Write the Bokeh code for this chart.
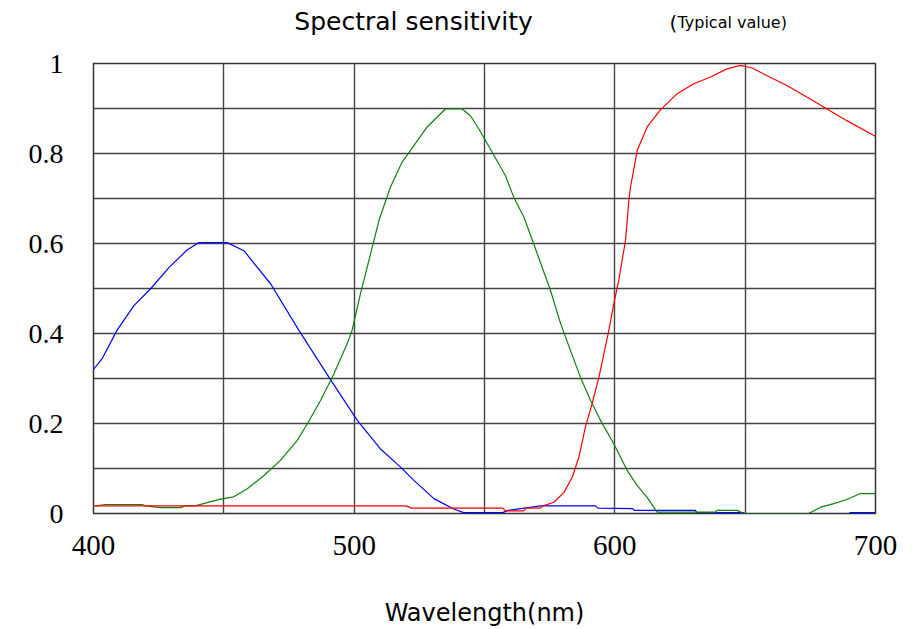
from bokeh.plotting import figure
from bokeh.models import FixedTicker, Label, Range1d
from bokeh.layouts import column
from bokeh.embed import file_html
from bokeh.resources import INLINE

# ---- data ----
blue_wl = [400, 403.3, 409, 415.5, 422, 429, 436, 440.5, 451.3, 457.7, 468, 478.8,
           490.3, 501.2, 510, 517.8, 523, 530.6, 538.2, 542, 557, 559, 571.5, 592.6,
           593.5, 606.8, 607.5, 630.9, 631.5, 649.4, 650, 689.7, 690.3, 700]
blue_val = [0.32, 0.344, 0.407, 0.462, 0.50, 0.547, 0.586, 0.602, 0.602, 0.584, 0.51, 0.407,
            0.303, 0.207, 0.144, 0.103, 0.073, 0.033, 0.01, 0.002, 0.002, 0.007, 0.017, 0.017,
            0.012, 0.011, 0.007, 0.007, 0.002, 0.002, -0.002, -0.002, 0.002, 0.002]

green_wl = [400.8, 404.6, 418.7, 420, 425.7, 433.4, 435, 439, 443.6, 448.7, 453.8, 459,
            465.3, 471.7, 478.1, 482, 487.1, 492.2, 497.3, 499.2, 502.4, 506.3, 509.5,
            513.9, 518.4, 521.6, 528, 535, 541.4, 544.6, 547.8, 553.6, 558, 561.2, 565.1,
            568.9, 572.8, 575.3, 579.2, 583, 586.8, 590.7, 594.5, 599.6, 604.7, 608.6,
            612.4, 616.2, 638.6, 639.2, 647, 649.4, 674.3, 679, 684, 689, 694, 700]
green_val = [0.017, 0.02, 0.02, 0.017, 0.013, 0.013, 0.017, 0.017, 0.024, 0.032, 0.037, 0.055,
             0.084, 0.118, 0.162, 0.199, 0.251, 0.31, 0.377, 0.407, 0.488, 0.577, 0.651,
             0.725, 0.781, 0.807, 0.859, 0.899, 0.899, 0.884, 0.855, 0.796, 0.751, 0.703, 0.659,
             0.599, 0.536, 0.496, 0.422, 0.362, 0.303, 0.251, 0.207, 0.155, 0.096, 0.062,
             0.036, 0.003, 0.003, 0.007, 0.007, 0.0, 0.0, 0.014, 0.022, 0.031, 0.044, 0.044]

red_wl = [400, 520, 522, 557, 558, 565, 566, 571.5, 572.5, 576.6, 580.5, 583.7, 586.2,
          588.7, 591.3, 593.9, 597.7, 599.6, 601.5, 604.1, 605.4, 606, 608.6, 612.4, 617.5,
          623.9, 630.3, 636.7, 643, 648.2, 652.7, 659, 666, 673.8, 681.4, 689, 699.4, 700]
red_val = [0.017, 0.017, 0.012, 0.012, 0.006, 0.006, 0.012, 0.012, 0.017, 0.025, 0.047, 0.081, 0.125,
           0.192, 0.244, 0.303, 0.407, 0.466, 0.518, 0.607, 0.696, 0.725, 0.807, 0.859, 0.897,
           0.933, 0.955, 0.97, 0.988, 0.996, 0.99, 0.971, 0.951, 0.925, 0.899, 0.873, 0.84, 0.838]

x_ticks = [400, 500, 600, 700]
x_tick_labels = ["400", "500", "600", "700"]
y_ticks = [0, 0.2, 0.4, 0.6, 0.8, 1]
y_tick_labels = ["0", "0.2", "0.4", "0.6", "0.8", "1"]
x_grid = [400, 450, 500, 550, 600, 650, 700]
y_grid = [0, 0.1, 0.2, 0.3, 0.4, 0.5, 0.6, 0.7, 0.8, 0.9, 1]

title_text = "Spectral sensitivity"
subtitle_open = "("
subtitle_text = "Typical value)"
xlabel_text = "Wavelength(nm)"

# ---- title strip (pixel coordinates of the page, y grows downward) ----
TOP_H = 40
t = figure(frame_width=782, frame_height=TOP_H, x_range=Range1d(93, 875),
           y_range=Range1d(TOP_H, 0), x_axis_type=None, y_axis_type=None,
           min_border_left=93, min_border_right=37, min_border_top=0, min_border_bottom=0,
           output_backend="svg", toolbar_location=None, title_location=None)
t.outline_line_color = None
t.background_fill_color = "white"
t.border_fill_color = "white"
t.add_layout(Label(x=413, y=21, text=title_text, text_align="center",
                   text_baseline="alphabetic", text_font="DejaVu Sans",
                   text_font_size="25px", text_color="black"))
t.add_layout(Label(x=669, y=22, text=subtitle_open, text_align="left",
                   text_baseline="alphabetic", text_font="DejaVu Sans",
                   text_font_size="20px", text_color="black"))
t.add_layout(Label(x=677, y=22, text=subtitle_text, text_align="left",
                   text_baseline="alphabetic", text_font="DejaVu Sans",
                   text_font_size="16px", text_color="black"))

# ---- main chart ----
TOP_B = 23
p = figure(frame_width=782, frame_height=450,
           x_range=Range1d(400, 700), y_range=Range1d(0, 1),
           output_backend="svg", toolbar_location=None, title_location=None,
           min_border_left=93, min_border_right=37,
           min_border_top=TOP_B, min_border_bottom=629 - TOP_H - TOP_B - 450)
p.background_fill_color = "white"
p.border_fill_color = "white"
p.outline_line_color = "#333333"
p.outline_line_width = 1.5

p.xaxis.ticker = FixedTicker(ticks=x_ticks)
p.yaxis.ticker = FixedTicker(ticks=y_ticks)
p.xaxis.major_label_overrides = dict(zip(x_ticks, x_tick_labels))
p.yaxis.major_label_overrides = dict(zip(y_ticks, y_tick_labels))
p.xgrid.ticker = FixedTicker(ticks=x_grid)
p.ygrid.ticker = FixedTicker(ticks=y_grid)

for ax in (p.xaxis, p.yaxis):
    ax.axis_line_color = None
    ax.major_tick_line_color = None
    ax.minor_tick_line_color = None
    ax.major_tick_out = 0
    ax.major_tick_in = 0
    ax.minor_tick_out = 0
    ax.major_label_text_font = "Liberation Serif"
    ax.major_label_text_color = "black"
p.xaxis.major_label_text_font_size = "29px"
p.yaxis.major_label_text_font_size = "28px"
p.xaxis.major_label_standoff = 22
p.yaxis.major_label_standoff = 30

p.xaxis.axis_label = xlabel_text
p.xaxis.axis_label_text_font = "DejaVu Sans"
p.xaxis.axis_label_text_font_size = "24px"
p.xaxis.axis_label_text_font_style = "normal"
p.xaxis.axis_label_text_color = "black"
p.xaxis.axis_label_standoff = 41

for g in (p.xgrid, p.ygrid):
    g.grid_line_color = "#444444"
    g.grid_line_width = 1.4
    g.grid_line_alpha = 1.0

p.line(blue_wl, blue_val, line_color="#0000ff", line_width=1.2)
p.line(green_wl, green_val, line_color="#108010", line_width=1.2)
p.line(red_wl, red_val, line_color="#ff0000", line_width=1.2)

layout = column(t, p, spacing=0)
open("out.html", "w").write(file_html(layout, INLINE))
